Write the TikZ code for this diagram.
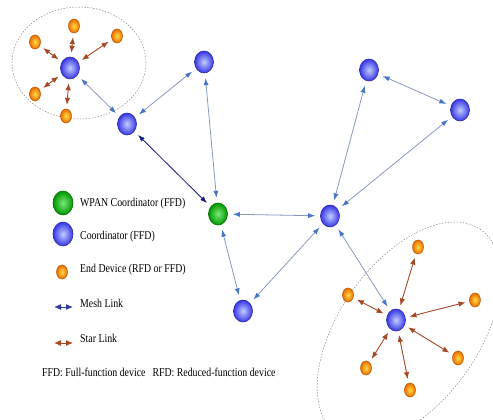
\documentclass[tikz,border=0pt]{standalone}
\usepackage{fontspec}
\setmainfont{Liberation Serif}[FakeStretch=0.82]
\usetikzlibrary{arrows.meta,shapes.geometric}

\definecolor{meshline}{RGB}{135,152,190}
\definecolor{meshtip}{RGB}{70,118,200}
\definecolor{navylink}{RGB}{20,25,135}
\definecolor{keyblue}{RGB}{45,60,165}
\definecolor{starbrown}{RGB}{165,72,35}
\definecolor{ringgray}{RGB}{150,135,120}
\definecolor{coin}{RGB}{195,205,255}
\definecolor{coout}{RGB}{55,55,230}
\definecolor{coedge}{RGB}{40,40,165}
\definecolor{panin}{RGB}{120,235,120}
\definecolor{panout}{RGB}{0,150,0}
\definecolor{panedge}{RGB}{0,105,0}
\definecolor{endin}{RGB}{255,220,70}
\definecolor{endout}{RGB}{235,110,0}
\definecolor{endedge}{RGB}{190,80,0}

\tikzset{
  coord/.style={ellipse, minimum width=19pt, minimum height=22pt, inner sep=0pt,
    draw=coedge, line width=0.6pt, inner color=coin, outer color=coout},
  pancoord/.style={coord, draw=panedge, inner color=panin, outer color=panout},
  enddev/.style={ellipse, minimum width=11pt, minimum height=14pt, inner sep=0pt,
    draw=endedge, line width=0.5pt, inner color=endin, outer color=endout},
  mesh/.style={draw=meshline, line width=0.8pt, >={Latex[length=7pt,width=5pt,color=meshtip]}, <->,
    shorten <=5pt, shorten >=5pt},
  starlink/.style={draw=starbrown, line width=0.9pt, >={Latex[length=7pt,width=5.5pt]}, <->,
    shorten <=4pt, shorten >=4pt},
  ring/.style={draw=ringgray, line width=0.5pt, dash pattern=on 1.5pt off 1.5pt},
  legend/.style={anchor=west, inner sep=0pt, font=\fontsize{12}{13}\selectfont}
}

\begin{document}
\begin{tikzpicture}[x=1pt, y=-1pt]
    \useasboundingbox (0,0) rectangle (493,420);

    % star clusters
    \draw[ring] (79,63) ellipse [x radius=67pt, y radius=56pt];
    \draw[ring, rotate around={55:(409,332)}] (409,332) ellipse [x radius=125pt, y radius=70pt];

    % coordinators
    \node[coord] (coA) at (70,68) {};
    \node[coord] (coB) at (127,124) {};
    \node[coord] (coC) at (204,62) {};
    \node[pancoord] (pan) at (218,214) {};
    \node[coord] (coD) at (243,311) {};
    \node[coord] (coE) at (330,216) {};
    \node[coord] (coF) at (369,70) {};
    \node[coord] (coH) at (460,110) {};
    \node[coord] (coI) at (396,320) {};

    % end devices
    \node[enddev] (ea1) at (35,42) {};
    \node[enddev] (ea2) at (74,26) {};
    \node[enddev] (ea3) at (117,36) {};
    \node[enddev] (ea4) at (35,94) {};
    \node[enddev] (ea5) at (66,116) {};
    \node[enddev] (ei1) at (418,247) {};
    \node[enddev] (ei2) at (348,295) {};
    \node[enddev] (ei3) at (475,300) {};
    \node[enddev] (ei4) at (458,358) {};
    \node[enddev] (ei5) at (366,368) {};
    \node[enddev] (ei6) at (410,390) {};

    % mesh links
    \path
    (coA) edge[mesh] (coB)
    (coB) edge[mesh] (coC)
    (coC) edge[mesh] (pan)
    (pan) edge[mesh] (coE)
    (pan) edge[mesh] (coD)
    (coD) edge[mesh] (coE)
    (coE) edge[mesh] (coF)
    (coE) edge[mesh] (coH)
    (coF) edge[mesh] (coH)
    (coE) edge[mesh] (coI)
    (coB) edge[mesh, draw=navylink, >={Latex[length=7pt,width=5pt,color=navylink]}] (pan);

    % star links
    \path
    (coA) edge[starlink] (ea1) (coA) edge[starlink] (ea2) (coA) edge[starlink] (ea3)
    (coA) edge[starlink] (ea4) (coA) edge[starlink] (ea5)
    (coI) edge[starlink] (ei1) (coI) edge[starlink] (ei2) (coI) edge[starlink] (ei3)
    (coI) edge[starlink] (ei4) (coI) edge[starlink] (ei5) (coI) edge[starlink] (ei6);

    % legend
    \node[pancoord, minimum width=20pt, minimum height=24pt] (kpan) at (63,203) {};
    \node[coord, minimum width=20pt, minimum height=24pt] (kco) at (63,234) {};
    \node[enddev] (kend) at (62,272) {};
    \coordinate (kmeshL) at (54,307);
    \coordinate (kmeshR) at (73,307);
    \coordinate (kstarL) at (54,343);
    \coordinate (kstarR) at (73,343);
    \draw[keyblue, line width=1pt, {Latex[length=7pt,width=6pt]}-{Latex[length=7pt,width=6pt]}] (kmeshL) -- (kmeshR);
    \draw[starbrown, line width=1pt, {Latex[length=7pt,width=6pt]}-{Latex[length=7pt,width=6pt]}] (kstarL) -- (kstarR);

    \node[legend] (tpan) at (80,204) {WPAN Coordinator (FFD)};
    \node[legend] (tco) at (80,237) {Coordinator (FFD)};
    \node[legend] (tend) at (80,270) {End Device (RFD or FFD)};
    \node[legend] (tmesh) at (80,303) {Mesh Link};
    \node[legend] (tstar) at (80,338) {Star Link};
    \node[legend] (tfoot) at (42,372) {FFD: Full-function device\hspace{7pt}RFD: Reduced-function device};
\end{tikzpicture}
\end{document}
